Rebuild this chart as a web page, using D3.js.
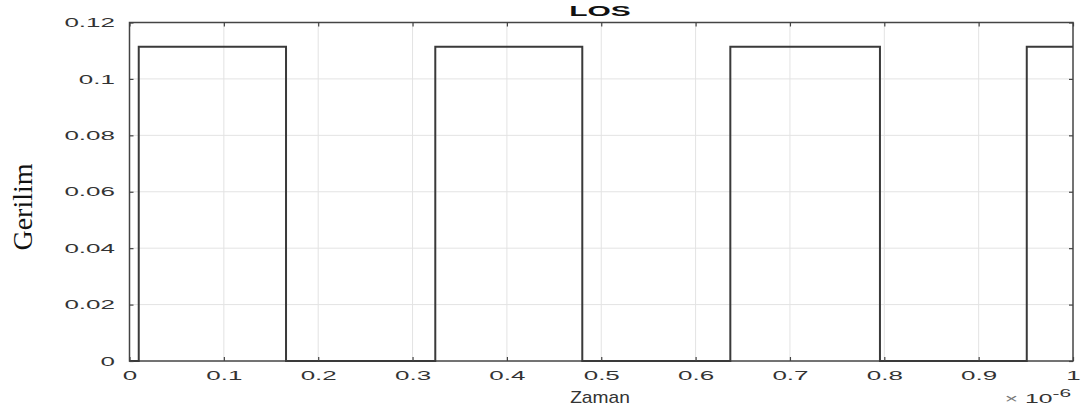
<!DOCTYPE html>
<html>
<head>
<meta charset="utf-8">
<script src="https://cdn.jsdelivr.net/npm/d3@7"></script>
<style>
  body { margin: 0; background: #fff; }
  svg { display: block; }
</style>
</head>
<body>
<div id="chart"></div>
<script>
// pulse edges in units of 1e-6 s
const riseTimes = [0.0098, 0.3241, 0.6368, 0.951];
const fallTimes = [0.1659, 0.4799, 0.7954, 1.0];
const pulseLevel = 0.1114;
const xTicks = [0, 0.1, 0.2, 0.3, 0.4, 0.5, 0.6, 0.7, 0.8, 0.9, 1];
const yTicks = [0, 0.02, 0.04, 0.06, 0.08, 0.1, 0.12];
const yTickLabels = ['0', '0.02', '0.04', '0.06', '0.08', '0.1', '0.12'];

const width = 1086, height = 414;
const plotL = 129.5, plotR = 1073, plotT = 22.5, plotB = 361;
const stretch = 2; // the source picture's text is stretched sideways

const svg = d3.select('#chart').append('svg')
    .attr('width', width)
    .attr('height', height);

const x = d3.scaleLinear().domain([0, 1]).range([plotL, plotR]);
const y = d3.scaleLinear().domain([0, 0.12]).range([plotB, plotT]);

// grid
svg.append('g')
    .selectAll('line')
    .data(xTicks.slice(1, -1))
    .enter()
    .append('line')
    .attr('x1', d => x(d)).attr('x2', d => x(d))
    .attr('y1', plotT).attr('y2', plotB)
    .attr('stroke', '#e3e3e3')
    .attr('stroke-width', 1);

svg.append('g')
    .selectAll('line')
    .data(yTicks.slice(1, -1))
    .enter()
    .append('line')
    .attr('x1', plotL).attr('x2', plotR)
    .attr('y1', d => y(d)).attr('y2', d => y(d))
    .attr('stroke', '#e3e3e3')
    .attr('stroke-width', 1);

// build square wave from edges
let pts = [[0, 0]];
riseTimes.forEach((r, i) => {
    pts.push([r, 0], [r, pulseLevel], [fallTimes[i], pulseLevel]);
    if (fallTimes[i] < 1) pts.push([fallTimes[i], 0]);
});
if (pts[pts.length - 1][0] < 1) pts.push([1, pts[pts.length - 1][1]]);

const line = d3.line().x(d => x(d[0])).y(d => y(d[1]));

// box
svg.append('rect')
    .attr('x', plotL).attr('y', plotT)
    .attr('width', plotR - plotL).attr('height', plotB - plotT)
    .attr('fill', 'none')
    .attr('stroke', '#444')
    .attr('stroke-width', 1.5);

svg.append('path')
    .datum(pts)
    .attr('d', line)
    .attr('fill', 'none')
    .attr('stroke', '#3a3a3a')
    .attr('stroke-width', 2);

// axes with inward ticks
const xAxisB = d3.axisBottom(x).tickValues(xTicks).tickSize(-4).tickFormat(d3.format('~g')).tickPadding(10);
const xAxisT = d3.axisTop(x).tickValues(xTicks).tickSize(-4).tickFormat('');
const yAxisL = d3.axisLeft(y).tickValues(yTicks).tickSize(-4).tickFormat((d, i) => yTickLabels[i]);
const yAxisR = d3.axisRight(y).tickValues(yTicks).tickSize(-4).tickFormat('');

function styleAxis(g) {
    g.select('.domain').remove();
    g.selectAll('.tick line').attr('stroke', '#444').attr('stroke-width', 1.2);
    g.selectAll('.tick text')
        .attr('fill', '#333')
        .attr('transform', `scale(${stretch},1)`)
        .style('font-family', 'Liberation Sans, Arial, sans-serif')
        .style('font-size', '13px');
}

svg.append('g').attr('transform', `translate(0,${plotB})`).call(xAxisB).call(styleAxis);
svg.append('g').attr('transform', `translate(0,${plotT})`).call(xAxisT).call(styleAxis);
svg.append('g').attr('transform', `translate(${plotL},0)`).call(yAxisL).call(styleAxis)
    .selectAll('.tick text').attr('x', -14.5 / stretch);
svg.append('g').attr('transform', `translate(${plotR},0)`).call(yAxisR).call(styleAxis);

// title
svg.append('g').attr('transform', `translate(600,16) scale(${stretch},1)`)
    .append('text')
    .attr('text-anchor', 'middle')
    .style('font-family', 'Liberation Sans, Arial, sans-serif')
    .style('font-weight', 'bold')
    .style('font-size', '15px')
    .attr('fill', '#111')
    .text('LOS');

// x label
svg.append('g').attr('transform', 'translate(600,403) scale(1.2,1)')
    .append('text')
    .attr('text-anchor', 'middle')
    .style('font-family', 'Liberation Sans, Arial, sans-serif')
    .style('font-size', '16px')
    .attr('fill', '#333')
    .text('Zaman');

// exponent
const expo = svg.append('g').attr('transform', `translate(1071,403) scale(1.9,1)`)
    .append('text')
    .attr('text-anchor', 'end')
    .style('font-family', 'Liberation Sans, Arial, sans-serif')
    .style('font-size', '13px')
    .attr('fill', '#333');
expo.append('tspan').text('\u00d7').style('font-size', '12px').attr('fill', '#777');
expo.append('tspan').text(' 10');
expo.append('tspan').text('-6').attr('dy', -6).style('font-size', '11px');

// y label
svg.append('text')
    .attr('transform', 'translate(32,207) rotate(-90)')
    .attr('text-anchor', 'middle')
    .style('font-family', 'Liberation Serif, Times New Roman, serif')
    .style('font-size', '28px')
    .attr('fill', '#111')
    .text('Gerilim');
</script>
</body>
</html>
